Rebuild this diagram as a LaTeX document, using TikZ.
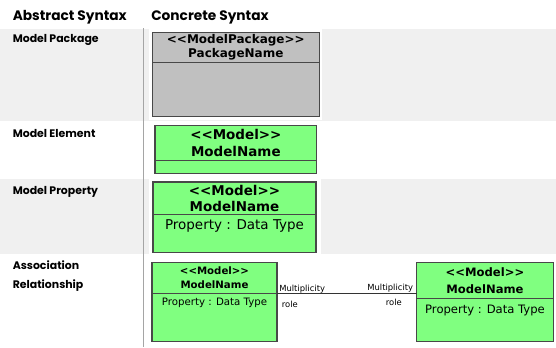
\documentclass[tikz,border=0pt]{standalone}
\usepackage{fontspec}
\setmainfont{DejaVu Sans}
\newfontfamily\labelfont{Poppins}
\usetikzlibrary{calc}

\definecolor{umlgreen}{RGB}{128,255,128}
\definecolor{pkggray}{RGB}{192,192,192}
\definecolor{bandgray}{RGB}{240,240,240}
\definecolor{boxline}{RGB}{72,72,72}
\definecolor{ruleline}{RGB}{165,165,165}

% guillemet-free stereotype brackets
\newcommand\stereo[1]{{<}{<}#1{>}{>}}

\tikzset{
  heading/.style={font=\labelfont\bfseries\fontsize{10.3}{12}\selectfont, inner sep=0pt, anchor=base west},
  rowlabel/.style={font=\labelfont\bfseries\fontsize{8.2}{13.9}\selectfont, inner sep=0pt, anchor=base west, align=left},
  umlpart/.style={draw=boxline, line width=1pt, inner sep=0pt, outer sep=0pt, anchor=north west, align=center},
  pkgpart/.style={umlpart, fill=pkggray},
  modelpart/.style={umlpart, fill=umlgreen},
  proptext/.style={inner sep=0pt, anchor=north},
  assocline/.style={draw=black!80, line width=0.8pt},
  assoclabel/.style={inner sep=0pt, font=\fontsize{6.3}{7}\selectfont},
}

\begin{document}
\begin{tikzpicture}[x=0.75pt, y=-0.75pt]
\useasboundingbox (0,0) rectangle (556,347);
\fill[white] (0,0) rectangle (556,347);

% shaded rows, with a white mat behind each drawing
\fill[bandgray] (0,29) rectangle (556,121);
\fill[bandgray] (0,179) rectangle (556,254);
\fill[white] (149,29) rectangle (322,119.5);
\fill[white] (149,178) rectangle (321,255);

% column divider
\draw[ruleline, line width=0.8pt] (143.3,28) -- (143.3,347);

% column headings
\node[heading] (absHead) at (12.5,20.5) {Abstract Syntax};
\node[heading] (conHead) at (151,20.5) {Concrete Syntax};

% row labels (base anchor sits on the last line)
\node[rowlabel] (lblPkg)  at (12.5,42.7) {Model Package};
\node[rowlabel] (lblElem) at (12.5,137) {Model Element};
\node[rowlabel] (lblProp) at (12.5,194) {Model Property};
\node[rowlabel] (lblAssoc) at (12.5,288.5) {Association\\Relationship};

% package
\node[pkgpart, minimum width=167*0.75pt, minimum height=30.4*0.75pt,
      font=\bfseries\fontsize{9}{10.7}\selectfont] (pkgH) at (152.3,32.3)
      {\stereo{ModelPackage}\\PackageName};
\node[pkgpart, minimum width=167*0.75pt, minimum height=54*0.75pt] (pkgB) at (pkgH.south west) {};

% model element
\node[modelpart, minimum width=161.7*0.75pt, minimum height=35*0.75pt,
      font=\bfseries\fontsize{10.1}{13}\selectfont] (elemH) at (155,125.7)
      {\stereo{Model}\\ModelName};
\node[modelpart, minimum width=161.7*0.75pt, minimum height=12.6*0.75pt] (elemB) at (elemH.south west) {};

% model property
\node[modelpart, minimum width=163*0.75pt, minimum height=32.3*0.75pt,
      font=\bfseries\fontsize{10.1}{11.8}\selectfont] (propH) at (153,182)
      {\stereo{Model}\\ModelName};
\node[modelpart, minimum width=163*0.75pt, minimum height=38*0.75pt] (propB) at (propH.south west) {};
\node[proptext, font=\fontsize{10.1}{12}\selectfont, yshift=-3.5pt] (propT) at (propB.north) {Property : Data Type};

% association: left class
\node[modelpart, minimum width=125*0.75pt, minimum height=30.6*0.75pt,
      font=\bfseries\fontsize{7.65}{10.7}\selectfont] (asLH) at (152,262.7)
      {\stereo{Model}\\ModelName};
\node[modelpart, minimum width=125*0.75pt, minimum height=48.4*0.75pt] (asLB) at (asLH.south west) {};
\node[proptext, font=\fontsize{7.65}{9}\selectfont, yshift=-3.6pt] (asLT) at (asLB.north) {Property : Data Type};

% association: right class
\node[modelpart, minimum width=136.6*0.75pt, minimum height=35.6*0.75pt,
      font=\bfseries\fontsize{8.7}{13}\selectfont] (asRH) at (416.7,262.7)
      {\stereo{Model}\\ModelName};
\node[modelpart, minimum width=136.6*0.75pt, minimum height=43.4*0.75pt] (asRB) at (asRH.south west) {};
\node[proptext, font=\fontsize{8.7}{10}\selectfont, yshift=-4.5pt] (asRT) at (asRB.north) {Property : Data Type};

% association line and its end labels
\coordinate (endR) at (asLH.south east -| asRH.west);
\draw[assocline] (asLH.south east) -- (endR);
\node[assoclabel, anchor=base west, xshift=1.5pt, yshift=1.2pt] (multL) at (asLH.south east) {Multiplicity};
\node[assoclabel, anchor=base east, xshift=-2.5pt, yshift=2pt] (multR) at (endR) {Multiplicity};
\node[assoclabel, anchor=west, xshift=3.5pt, yshift=-8pt] (roleL) at (asLH.south east) {role};
\node[assoclabel, anchor=east, xshift=-11pt, yshift=-7pt] (roleR) at (endR) {role};
\end{tikzpicture}
\end{document}
